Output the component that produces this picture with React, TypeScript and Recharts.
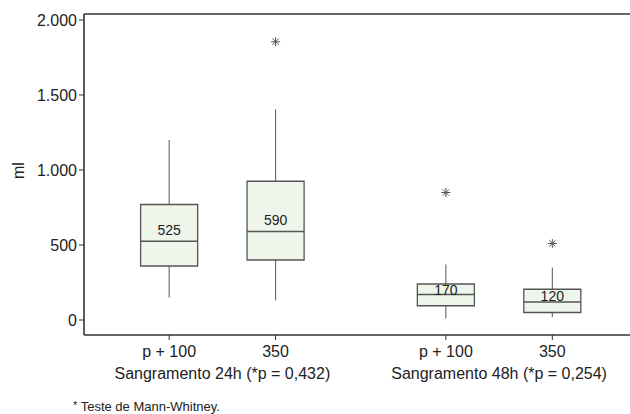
import React from 'react';
import { ComposedChart, XAxis, YAxis, ReferenceArea, ReferenceLine, Scatter } from 'recharts';

const categories = ['p + 100', '350', 'p + 100', '350'];
const positions = [1, 2, 3.6, 4.6];
const groupLabels = ['Sangramento 24h (*p = 0,432)', 'Sangramento 48h (*p = 0,254)'];
const whiskerLow = [150, 130, 10, 20];
const q1 = [360, 400, 95, 50];
const median = [525, 590, 170, 120];
const q3 = [770, 925, 240, 205];
const whiskerHigh = [1200, 1405, 370, 350];
const outliers: (number | null)[] = [null, 1855, 850, 510];
const yTicks = [0, 500, 1000, 1500, 2000];

const groupPositions = [(positions[0] + positions[1]) / 2, (positions[2] + positions[3]) / 2];
const xTicks = [...positions, ...groupPositions].sort((a, b) => a - b);
const xDomain: [number, number] = [0.2, 5.33];
const yDomain: [number, number] = [-100, 2040];
const halfWidth = 0.268;

const FONT = '"Liberation Sans", Arial, Helvetica, sans-serif';
const AXIS = '#333';
const BOX_STROKE = '#555';
const BOX_FILL = '#eef5eb';

const fmtY = (v: number) =>
  v >= 1000 ? `${Math.floor(v / 1000)}.${String(v % 1000).padStart(3, '0')}` : String(v);

const outlierData = positions
  .map((x, i) => ({ x, y: outliers[i] }))
  .filter((d) => d.y !== null);

const labelData = positions.map((x, i) => ({
  x,
  y: median[i] + Math.min(75, (q3[i] - median[i]) * 0.45),
  label: median[i],
}));

const Star = (props: any) => {
  const { cx, cy } = props;
  const r = 4.5;
  const d = r * 0.7071;
  return (
    <g stroke="#555" strokeWidth={1}>
      <line x1={cx} y1={cy - r} x2={cx} y2={cy + r} />
      <line x1={cx - r} y1={cy} x2={cx + r} y2={cy} />
      <line x1={cx - d} y1={cy - d} x2={cx + d} y2={cy + d} />
      <line x1={cx - d} y1={cy + d} x2={cx + d} y2={cy - d} />
    </g>
  );
};

const MedianLabel = (props: any) => {
  const { cx, cy, payload } = props;
  return (
    <text x={cx} y={cy} textAnchor="middle" dominantBaseline="central" fontSize={14} fill="#222" fontFamily={FONT}>
      {payload.label}
    </text>
  );
};

const TICK_SIZE = 5;
const TICK_MARGIN = 6;

const XTick = (props: any) => {
  const { x, y, payload } = props;
  const v = payload.value;
  const ci = positions.findIndex((p) => Math.abs(p - v) < 1e-6);
  if (ci >= 0) {
    const axisY = y - TICK_SIZE - TICK_MARGIN;
    return (
      <g>
        <line x1={x} y1={axisY} x2={x} y2={axisY + TICK_SIZE} stroke={AXIS} />
        <text x={x} y={y} dy="0.71em" textAnchor="middle" fontSize={16} fill="#222" fontFamily={FONT}>
          {categories[ci]}
        </text>
      </g>
    );
  }
  const gi = groupPositions.findIndex((p) => Math.abs(p - v) < 1e-6);
  if (gi >= 0) {
    return (
      <text x={x} y={y + 22} dy="0.71em" textAnchor="middle" fontSize={16} fill="#222" fontFamily={FONT}>
        {groupLabels[gi]}
      </text>
    );
  }
  return null;
};

export default function App() {
  return (
    <div style={{ position: 'absolute', left: 0, top: 0, width: 630, height: 414, background: '#fff' }}>
      <ComposedChart width={630} height={414} margin={{ top: 14, right: 0, left: 0, bottom: 29 }}>
        <XAxis
          xAxisId="main"
          type="number"
          dataKey="x"
          domain={xDomain}
          allowDataOverflow
          ticks={xTicks}
          interval={0}
          tickSize={TICK_SIZE}
          tickMargin={TICK_MARGIN}
          height={50}
          axisLine={{ stroke: AXIS, strokeWidth: 1.6 }}
          tickLine={false}
          tick={<XTick />}
        />
        <YAxis
          yAxisId="y"
          type="number"
          domain={yDomain}
          allowDataOverflow
          ticks={yTicks}
          interval={0}
          tickFormatter={fmtY}
          width={84}
          tickSize={5}
          axisLine={{ stroke: AXIS, strokeWidth: 1.6 }}
          tickLine={{ stroke: AXIS }}
          tick={{ fill: '#222', fontSize: 16, fontFamily: FONT }}
          label={{
            content: (p: any) => {
              const vb = p.viewBox || { x: 0, y: 14, width: 84, height: 321 };
              const x = vb.x + 18;
              const y = vb.y + vb.height / 2 - 4;
              return (
                <text x={x} y={y} transform={`rotate(-90 ${x} ${y})`} textAnchor="middle" dominantBaseline="central" fontSize={16} fill="#222" fontFamily={FONT}>
                  ml
                </text>
              );
            },
          }}
        />
        <ReferenceLine xAxisId="main" yAxisId="y" y={yDomain[1]} stroke={AXIS} strokeWidth={1.6} ifOverflow="visible" />
        {positions.map((p, i) => (
          <ReferenceArea
            key={`box${i}`}
            xAxisId="main"
            yAxisId="y"
            x1={p - halfWidth}
            x2={p + halfWidth}
            y1={q1[i]}
            y2={q3[i]}
            fill={BOX_FILL}
            fillOpacity={1}
            stroke={BOX_STROKE}
            strokeWidth={1.3}
          />
        ))}
        {positions.map((p, i) => (
          <ReferenceLine
            key={`wh${i}`}
            xAxisId="main"
            yAxisId="y"
            segment={[{ x: p, y: q3[i] }, { x: p, y: whiskerHigh[i] }]}
            stroke={BOX_STROKE}
            strokeWidth={1}
          />
        ))}
        {positions.map((p, i) => (
          <ReferenceLine
            key={`wl${i}`}
            xAxisId="main"
            yAxisId="y"
            segment={[{ x: p, y: whiskerLow[i] }, { x: p, y: q1[i] }]}
            stroke={BOX_STROKE}
            strokeWidth={1}
          />
        ))}
        {positions.map((p, i) => (
          <ReferenceLine
            key={`md${i}`}
            xAxisId="main"
            yAxisId="y"
            segment={[{ x: p - halfWidth, y: median[i] }, { x: p + halfWidth, y: median[i] }]}
            stroke={BOX_STROKE}
            strokeWidth={1.3}
          />
        ))}
        <Scatter xAxisId="main" yAxisId="y" data={outlierData} dataKey="y" shape={Star} isAnimationActive={false} />
        <Scatter xAxisId="main" yAxisId="y" data={labelData} dataKey="y" shape={MedianLabel} isAnimationActive={false} />
      </ComposedChart>
      <div
        style={{
          position: 'absolute',
          left: 73,
          top: 397,
          fontFamily: FONT,
          fontSize: 13,
          color: '#222',
          whiteSpace: 'nowrap',
          lineHeight: '16px',
        }}
      >
        <span style={{ fontSize: 11, verticalAlign: '2px' }}>*</span> Teste de Mann-Whitney.
      </div>
    </div>
  );
}
